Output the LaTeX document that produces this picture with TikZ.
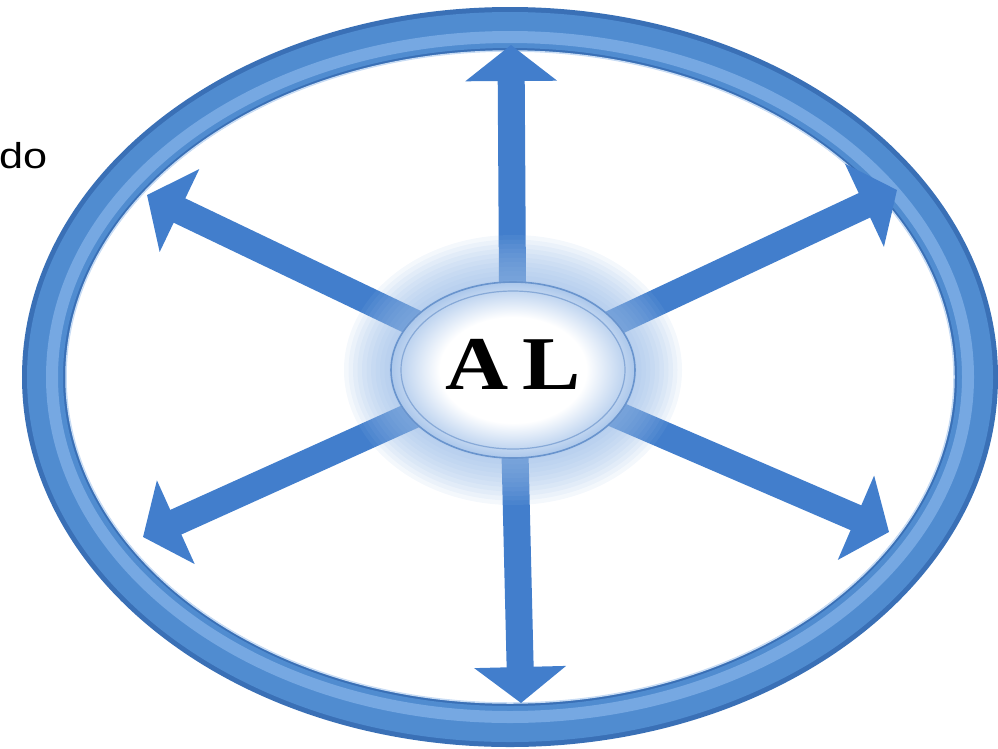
\documentclass[tikz,border=0pt]{standalone}
\usepackage{fontspec}
\usepackage{graphicx}
\setmainfont{Liberation Serif}
\newfontfamily\sansf{Liberation Sans}
\usetikzlibrary{arrows.meta,shapes.geometric}
\definecolor{ringblue}{RGB}{80,140,208}
\definecolor{ringdark}{RGB}{58,112,182}
\definecolor{ringlight}{RGB}{118,168,226}
\definecolor{arrowblue}{RGB}{66,126,204}
\definecolor{glowblue}{RGB}{150,185,230}
\definecolor{hubline}{RGB}{105,148,205}
\pgfdeclareradialshading{hubshade}{\pgfpoint{0bp}{0bp}}{color(0bp)=(white); color(15bp)=(white); color(25bp)=(glowblue!80); color(50bp)=(glowblue!80)}
\begin{document}
\begin{tikzpicture}[x=1pt,y=-1pt,
  spoke/.style={line width=27pt, draw=arrowblue, -{Triangle[width=90pt,length=36pt]}},
  glow/.style={fill=glowblue, opacity=0.10}]
\useasboundingbox (0,0) rectangle (998,748);
% outer ring
\coordinate (ctr) at (510,377);
\draw[ringdark, line width=44pt] (ctr) ellipse [x radius=466pt, y radius=348pt];
\draw[ringblue, line width=36pt] (ctr) ellipse [x radius=465pt, y radius=347pt];
\draw[ringlight, line width=12pt] (ctr) ellipse [x radius=458pt, y radius=340pt];
\draw[white!60!ringlight, line width=1.5pt] (ctr) ellipse [x radius=444pt, y radius=326pt];
% spokes
\coordinate (hubc) at (513,370);
\coordinate (tN) at (511,45);
\coordinate (tS) at (521,703);
\coordinate (tNW) at (147,195);
\coordinate (tNE) at (897,190);
\coordinate (tSW) at (143,537);
\coordinate (tSE) at (889,532);
\foreach \t in {tN,tS,tNW,tNE,tSW,tSE}
  \draw[spoke] (hubc) -- (\t);
% glow
\foreach \i in {0,...,10}
  \fill[glow] (hubc) ellipse [x radius={124pt+4.5pt*\i}, y radius={90pt+4.5pt*\i}];
% hub
\node[ellipse, minimum width=244pt, minimum height=176pt, inner sep=0pt,
      shading=hubshade, draw=hubline, line width=1.6pt] (hub) at (hubc) {};
\draw[hubline!80, line width=1.2pt] (hubc) ellipse [x radius=112pt, y radius=79pt];
\node[inner sep=0pt] (hubtext) at (513,364) {\scalebox{1.15}[1]{\fontsize{76}{80}\selectfont\bfseries A\hspace{0.16em}L}};
% cut-off label
\node[anchor=base west, inner sep=0pt] (lbl) at (-1,168) {\scalebox{1.2}[1]{\sansf\fontsize{36}{40}\selectfont do}};
\end{tikzpicture}
\end{document}
